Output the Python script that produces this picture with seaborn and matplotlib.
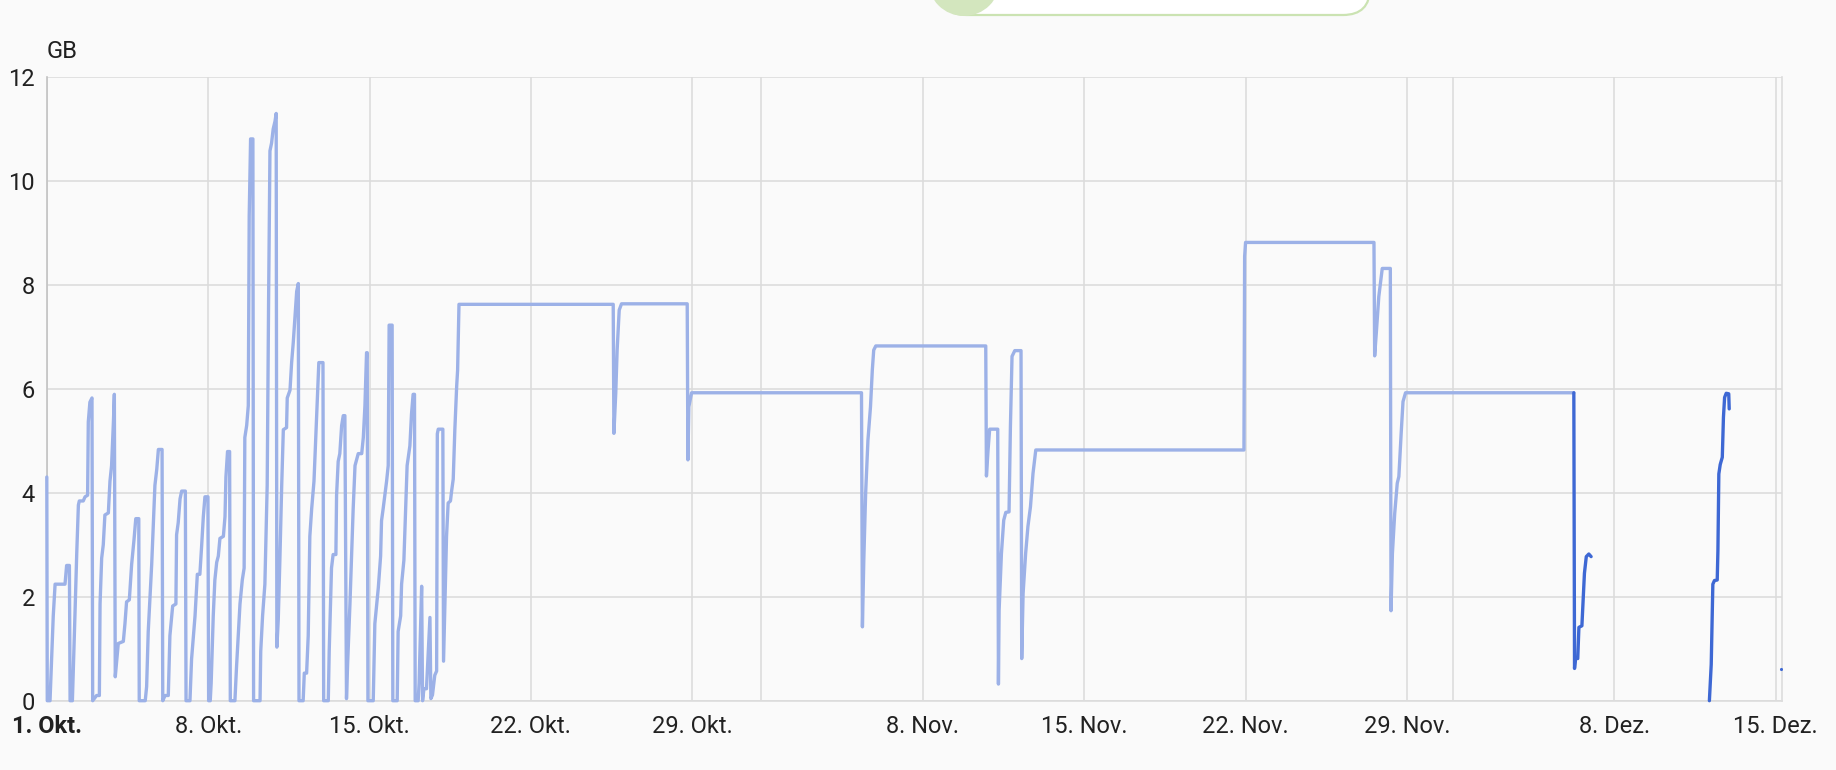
import pandas as pd
import numpy as np
import seaborn as sns
import matplotlib.pyplot as plt
import matplotlib.dates as mdates
from matplotlib.patches import Circle, FancyBboxPatch

start = pd.Timestamp('2023-10-01')

# history line (light): days since 1 Oct and GB
hist_days = [
    0.00, 0.02, 0.14, 0.21, 0.28, 0.36, 0.79, 0.86, 0.98, 1.01,
    1.11, 1.15, 1.22, 1.30, 1.37, 1.41, 1.58, 1.66, 1.77, 1.80, 1.87, 1.96, 1.99,
    2.16, 2.28, 2.31, 2.38, 2.45, 2.52, 2.67, 2.74, 2.81, 2.89, 2.93, 2.97,
    3.10, 3.32, 3.39, 3.46, 3.58, 3.68, 3.78, 3.86, 3.99, 4.01,
    4.27, 4.33, 4.40, 4.55, 4.69, 4.77, 4.84, 5.00, 5.03,
    5.13, 5.27, 5.34, 5.46, 5.60, 5.63, 5.70, 5.78, 5.85, 6.01, 6.04,
    6.21, 6.28, 6.43, 6.53, 6.64, 6.72, 6.79, 6.86, 6.99, 7.02,
    7.09, 7.13, 7.22, 7.29, 7.37, 7.44, 7.51, 7.66, 7.73, 7.77, 7.84, 7.93, 7.96,
    8.16, 8.23, 8.38, 8.48, 8.56, 8.59, 8.67, 8.74, 8.78, 8.84, 8.94, 8.97,
    9.25, 9.28, 9.36, 9.46, 9.56, 9.62, 9.68, 9.75, 9.82, 9.90, 9.95, 9.98,
    10.04, 10.11, 10.19, 10.26, 10.40, 10.43, 10.55, 10.62, 10.69, 10.76, 10.84, 10.91, 10.94,
    11.12, 11.17, 11.27, 11.34, 11.41, 11.49, 11.59, 11.70, 11.80, 11.98, 12.01,
    12.21, 12.25, 12.35, 12.42, 12.54, 12.57, 12.64, 12.71, 12.79, 12.86, 12.93, 13.00,
    13.05, 13.15, 13.29, 13.37, 13.51, 13.66, 13.73, 13.80, 13.87, 13.90, 13.93,
    14.16, 14.23, 14.38, 14.48, 14.52, 14.59, 14.74, 14.81, 14.85, 14.98, 15.01,
    15.20, 15.24, 15.35, 15.39, 15.49, 15.58, 15.63, 15.75, 15.82, 15.89, 15.95, 15.98,
    16.11, 16.15, 16.26, 16.30, 16.36, 16.47, 16.62, 16.66, 16.73, 16.83, 16.91, 16.94, 16.98, 17.18, 17.21,
    17.27, 17.34, 17.41, 17.51, 17.56, 17.63, 17.70, 17.78, 17.82, 17.88,
    24.57, 24.60, 24.68, 24.74, 24.83, 24.93, 27.78, 27.81, 27.85, 27.97,
    35.34, 35.38, 35.44, 35.52, 35.62, 35.73, 35.81, 35.87, 35.96,
    40.73, 40.76, 40.83, 40.90, 41.25, 41.28, 41.31, 41.41, 41.51, 41.60, 41.74, 41.80, 41.87, 41.99,
    42.26, 42.29, 42.35, 42.46, 42.56, 42.67, 42.78, 42.90,
    51.93, 51.96, 52.00, 57.57, 57.60, 57.67, 57.78, 57.93, 58.28, 58.31, 58.37, 58.47, 58.58,
    58.65, 58.75, 58.83, 58.94, 66.24,
]
hist_gb = [
    4.30, 0.00, 0.00, 0.80, 1.63, 2.24, 2.24, 2.60, 2.60, 0.00,
    0.00, 0.57, 1.63, 2.85, 3.76, 3.84, 3.84, 3.92, 3.95, 5.36, 5.74, 5.82, 0.00,
    0.10, 0.10, 1.86, 2.74, 3.00, 3.57, 3.61, 4.22, 4.52, 5.36, 5.89, 0.46,
    1.10, 1.14, 1.48, 1.90, 1.94, 2.62, 3.08, 3.50, 3.50, 0.00,
    0.00, 0.27, 1.33, 2.62, 4.14, 4.45, 4.83, 4.83, 0.00,
    0.10, 0.10, 1.25, 1.82, 1.86, 3.19, 3.42, 3.88, 4.03, 4.03, 0.00,
    0.00, 0.80, 1.63, 2.43, 2.43, 3.00, 3.54, 3.92, 3.92, 0.00,
    0.00, 0.34, 1.63, 2.32, 2.66, 2.78, 3.12, 3.16, 3.54, 4.30, 4.79, 4.79, 0.00,
    0.00, 0.65, 1.86, 2.32, 2.55, 5.06, 5.29, 5.67, 9.32, 10.80, 10.80, 0.00,
    0.00, 0.95, 1.63, 2.24, 4.14, 7.64, 10.57, 10.72, 10.99, 11.14, 11.29, 1.03,
    1.56, 2.70, 4.14, 5.21, 5.25, 5.82, 5.97, 6.50, 6.88, 7.34, 7.87, 8.02, 0.00,
    0.00, 0.53, 0.53, 1.25, 3.16, 3.69, 4.22, 5.44, 6.50, 6.50, 0.00,
    0.00, 0.95, 2.55, 2.81, 2.81, 3.95, 4.60, 4.75, 5.29, 5.48, 5.48, 0.04,
    0.72, 1.86, 3.69, 4.52, 4.75, 4.75, 5.06, 5.67, 6.69, 6.69, 0.00,
    0.00, 1.48, 2.17, 2.78, 3.46, 3.69, 4.22, 4.52, 7.22, 7.22, 0.00,
    0.00, 1.33, 1.63, 2.24, 2.70, 3.84, 4.52, 4.90, 5.51, 5.89, 5.89, 0.00,
    0.00, 0.34, 2.20, 0.00, 0.23, 0.23, 1.60, 0.04, 0.11, 0.49, 0.57, 5.13, 5.22, 5.22, 0.76,
    1.86, 3.16, 3.80, 3.84, 4.03, 4.26, 5.21, 6.05, 6.35, 7.62,
    7.62, 5.14, 5.91, 6.74, 7.51, 7.63, 7.63, 4.63, 5.65, 5.92,
    5.92, 1.42, 2.70, 3.99, 5.01, 5.65, 6.36, 6.74, 6.82,
    6.82, 4.32, 4.82, 5.22, 5.22, 0.32, 1.74, 2.83, 3.47, 3.62, 3.63, 5.27, 6.62, 6.73,
    6.73, 0.81, 2.06, 2.83, 3.35, 3.73, 4.37, 4.82,
    4.82, 8.54, 8.81, 8.81, 6.63, 7.06, 7.77, 8.31, 8.31, 1.73, 2.83, 3.60, 4.18,
    4.31, 5.14, 5.75, 5.92, 5.92,
]

# recent line (dark), two pieces plus one single point at the end
recent_days = [
    66.24, 66.27, 66.31, 66.41, 66.46, 66.59, 66.63, 66.70, 66.78, 66.89, 66.99,
    72.12, 72.20, 72.27, 72.34, 72.46, 72.49, 72.53, 72.59, 72.68, 72.73, 72.78, 72.85, 72.96, 72.98,
]
recent_gb = [
    5.92, 0.62, 0.81, 0.81, 1.41, 1.44, 1.81, 2.45, 2.77, 2.82, 2.77,
    0.00, 0.70, 2.24, 2.31, 2.32, 2.88, 4.36, 4.54, 4.68, 5.45, 5.83, 5.91, 5.90, 5.61,
]
recent_seg = [0] * 11 + [1] * 14
last_day = [75.23]
last_gb = [0.61]

tick_days = ['2023-10-01', '2023-10-08', '2023-10-15', '2023-10-22', '2023-10-29',
             '2023-11-08', '2023-11-15', '2023-11-22', '2023-11-29', '2023-12-08', '2023-12-15']
tick_labels = ['1. Okt.', '8. Okt.', '15. Okt.', '22. Okt.', '29. Okt.',
               '8. Nov.', '15. Nov.', '22. Nov.', '29. Nov.', '8. Dez.', '15. Dez.']
month_lines = ['2023-11-01', '2023-12-01']
y_ticks = [0, 2, 4, 6, 8, 10, 12]

df_hist = pd.DataFrame({'zeit': start + pd.to_timedelta(hist_days, unit='D'), 'gb': hist_gb})
df_recent = pd.DataFrame({'zeit': start + pd.to_timedelta(recent_days, unit='D'),
                          'gb': recent_gb, 'seg': recent_seg})
df_last = pd.DataFrame({'zeit': start + pd.to_timedelta(last_day, unit='D'), 'gb': last_gb})

sns.set_style('white')
plt.rcParams['font.family'] = ['Roboto', 'DejaVu Sans']

W, H = 1836, 770
bg = '#fafafa'
grid_c = '#dcdcdc'
text_c = '#212121'

fig = plt.figure(figsize=(W / 100, H / 100), dpi=100, facecolor=bg)
ax = fig.add_axes([46.8 / W, 1 - 700.7 / H, (1782 - 46.8) / W, (700.7 - 76.5) / H])
ax.set_facecolor(bg)

sns.lineplot(data=df_hist, x='zeit', y='gb', sort=False, estimator=None, color='#9cb1e7',
             linewidth=2.4, ax=ax, legend=False, solid_joinstyle='round',
             solid_capstyle='round', zorder=3, clip_on=False)
sns.lineplot(data=df_recent, x='zeit', y='gb', units='seg', sort=False, estimator=None,
             color='#3e68d4', linewidth=2.4, ax=ax, legend=False,
             solid_joinstyle='round', solid_capstyle='round', zorder=4, clip_on=False)
sns.scatterplot(data=df_last, x='zeit', y='gb', color='#3e68d4', s=5, linewidth=0, ax=ax,
                legend=False, zorder=4)

ax.set_xlim(mdates.date2num(start), mdates.date2num(start + pd.Timedelta(days=75.27)))
ax.set_ylim(0, 12)
ax.set_xticks(mdates.date2num(pd.to_datetime(tick_days)))
ax.set_xticklabels(tick_labels)
ax.set_xticks(mdates.date2num(pd.to_datetime(month_lines)), minor=True)
ax.set_yticks(y_ticks)
ax.get_xticklabels()[0].set_fontweight('bold')

ax.grid(which='both', color=grid_c, linewidth=1.2)
ax.set_axisbelow(True)
ax.tick_params(axis='x', which='major', length=6, width=1.2, color=grid_c, pad=4,
               labelsize=17, labelcolor=text_c)
ax.tick_params(axis='x', which='minor', length=0)
ax.tick_params(axis='y', length=7, width=1.2, color=grid_c, pad=1.5,
               labelsize=17, labelcolor=text_c)
ax.set_xlabel('')
ax.set_ylabel('')
ax.spines['top'].set_visible(False)
ax.spines['left'].set_color('#c2c2c2')
ax.spines['left'].set_linewidth(1.2)
for s in ['right', 'bottom']:
    ax.spines[s].set_color(grid_c)
    ax.spines[s].set_linewidth(1.2)

fig.text(46.8 / W, 1 - 52 / H, 'GB', fontsize=17, ha='left', va='center', color=text_c)

# green toggle element cut off at the top edge
over = fig.add_axes([0, 0, 1, 1], zorder=5)
over.set_xlim(0, W)
over.set_ylim(H, 0)
over.axis('off')
over.add_patch(FancyBboxPatch((940, -60), 430, 75, boxstyle='round,pad=0,rounding_size=27',
                              fc='white', ec='#cbe3b2', lw=1.6))
over.add_patch(Circle((964, -20), 36, fc='#d3e6be', ec='none'))

fig.savefig('out.png', dpi=100, facecolor=bg)
